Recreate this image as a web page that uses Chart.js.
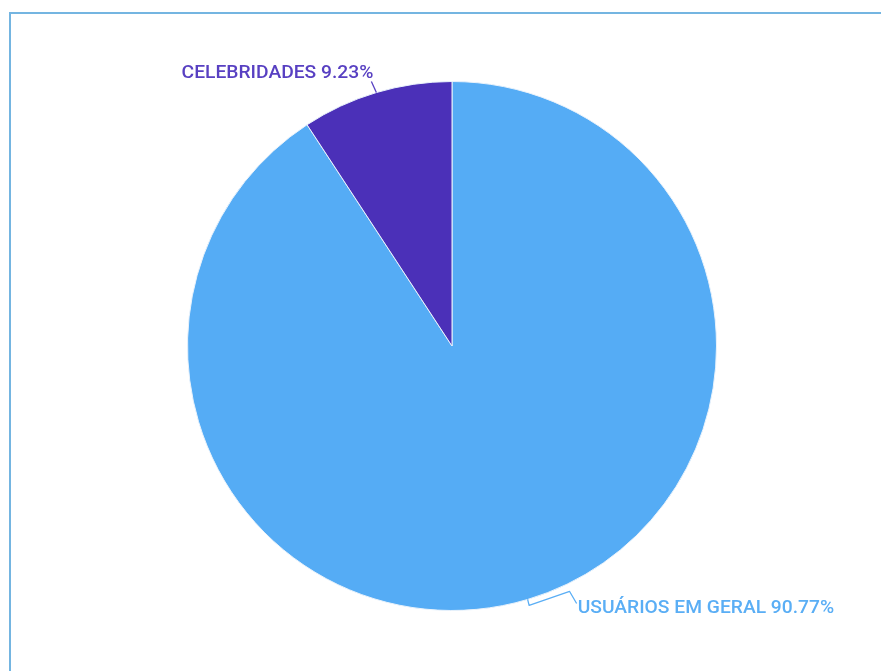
<!DOCTYPE html>
<html>
<head>
<meta charset="utf-8">
<script src="https://cdn.jsdelivr.net/npm/chart.js@4/dist/chart.umd.min.js"></script>
<style>
  html, body { margin: 0; padding: 0; background: #ffffff; }
  #wrap { position: relative; width: 881px; height: 671px; overflow: hidden; }
  #frame {
    position: absolute; left: 9px; top: 12px; right: -10px; bottom: -10px;
    border-left: 2px solid #74b5e1; border-top: 2px solid #74b5e1;
    pointer-events: none;
  }
  canvas { position: absolute; left: 0; top: 0; }
</style>
</head>
<body>
<div id="wrap">
  <canvas id="chart" width="881" height="671"></canvas>
  <div id="frame"></div>
</div>
<script>
const categories = ['USUÁRIOS EM GERAL', 'CELEBRIDADES'];
const shares = [90.77, 9.23];
const sliceColors = ['#55acf5', '#4b30b8'];
const labelColors = ['#5aaef5', '#5840c2'];

// Outside labels with leader lines, anchored at each slice's mid-angle on the rim
const outsideLabels = {
  id: 'outsideLabels',
  afterDatasetsDraw(chart) {
    const ctx = chart.ctx;
    const meta = chart.getDatasetMeta(0);
    ctx.save();
    ctx.font = '500 19.25px Roboto, "Noto Sans", sans-serif';
    ctx.lineWidth = 1.3;
    ctx.lineJoin = 'round';
    meta.data.forEach((arc, i) => {
      const p = arc.getProps(['x', 'y', 'startAngle', 'endAngle', 'outerRadius'], true);
      const mid = (p.startAngle + p.endAngle) / 2;
      const ex = p.x + Math.cos(mid) * p.outerRadius;
      const ey = p.y + Math.sin(mid) * p.outerRadius;
      const text = categories[i] + ' ' + shares[i].toFixed(2) + '%';
      ctx.strokeStyle = labelColors[i];
      ctx.fillStyle = labelColors[i];
      ctx.beginPath();
      if (Math.cos(mid) < 0) {
        // label sits up and to the left of the rim
        ctx.moveTo(ex, ey);
        ctx.lineTo(ex - 5, ey - 11);
        ctx.stroke();
        ctx.textAlign = 'right';
        ctx.textBaseline = 'alphabetic';
        ctx.fillText(text, ex - 3, ey - 15);
      } else {
        // label sits below and to the right of the rim
        ctx.moveTo(ex, ey);
        ctx.lineTo(ex + 1.5, ey + 6);
        ctx.lineTo(ex + 42, ey - 8);
        ctx.lineTo(ex + 49, ey + 4);
        ctx.stroke();
        ctx.textAlign = 'left';
        ctx.textBaseline = 'alphabetic';
        ctx.fillText(text, ex + 50, ey + 14);
      }
    });
    ctx.restore();
  }
};

new Chart(document.getElementById('chart'), {
  type: 'pie',
  data: {
    labels: categories,
    datasets: [{
      data: shares,
      backgroundColor: sliceColors,
      borderColor: '#e9f2fb',
      borderWidth: 1
    }]
  },
  options: {
    responsive: false,
    animation: false,
    layout: { padding: { top: 81, bottom: 60, left: 187, right: 164 } },
    plugins: {
      legend: { display: false },
      tooltip: { enabled: false }
    }
  },
  plugins: [outsideLabels]
});
</script>
</body>
</html>
